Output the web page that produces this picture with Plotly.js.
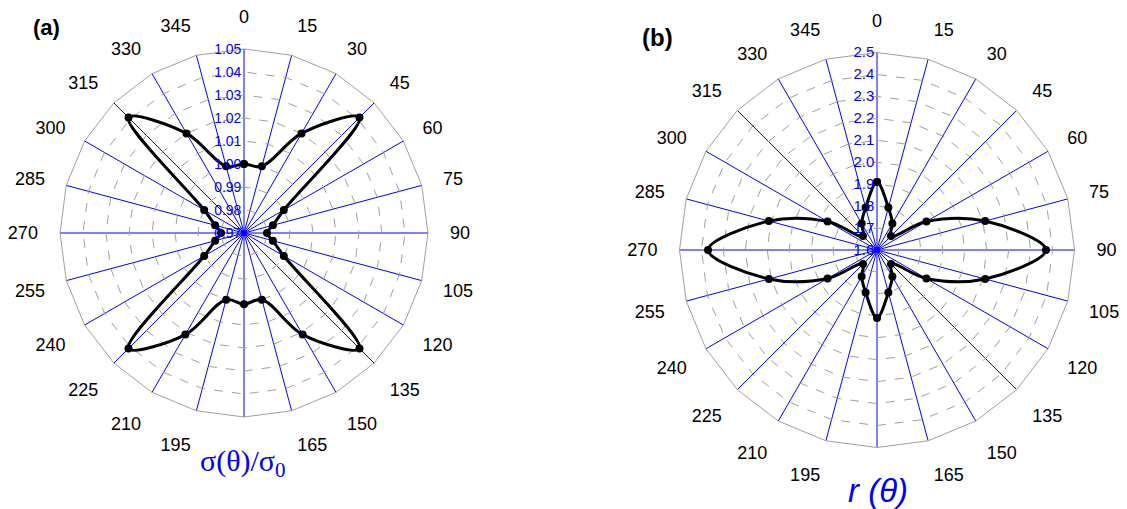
<!DOCTYPE html>
<html>
<head>
<meta charset="utf-8">
<script src="https://cdn.plot.ly/plotly-3.0.1.min.js"></script>
<style>html,body{margin:0;padding:0;background:#fff;}#chart{width:1127px;height:509px;}</style>
</head>
<body>
<div id="chart"></div>
<script>
// Angle categories (degrees, clockwise from top); last point closes the curve
const anglesA = ['0','15','30','45','60','75','90','105','120','135','150','165','180','195','210','225','240','255','270','285','300','315','330','345','0'];
// Panel (a): sigma(theta)/sigma0
const sigmaRatio = [1.000,1.000,1.020,1.041,0.990,0.983,0.980,0.983,0.990,1.041,1.021,1.000,1.001,1.000,1.021,1.041,0.990,0.983,0.980,0.983,0.990,1.041,1.020,1.000,1.000];
// Panel (b): r(theta)
const anglesB = ['0','15','30','45','60','75','90','105','120','135','150','165','180','195','210','225','240','255','270','285','300','315','330','345','0'];
const rTheta = [1.91,1.80,1.74,1.69,1.86,2.11,2.37,2.11,1.86,1.69,1.74,1.80,1.91,1.80,1.74,1.69,1.86,2.11,2.37,2.11,1.86,1.69,1.74,1.80,1.91];

const angTicks = ['0','15','30','45','60','75','90','105','120','135','150','165','180','195','210','225','240','255','270','285','300','315','330','345'];
const angLabels = ['0','15','30','45','60','75','90','105','120','135','150','165','','195','210','225','240','255','270','285','300','315','330','345'];
const radTicksA = [0.97,0.98,0.99,1.00,1.01,1.02,1.03,1.04,1.05];
const radTicksB = [1.6,1.7,1.8,1.9,2.0,2.1,2.2,2.3,2.4,2.5];

function angAxis(){
  return {
    type: 'category', categoryorder: 'array', categoryarray: angTicks,
    rotation: 90, direction: 'clockwise',
    tickmode: 'array', tickvals: angTicks, ticktext: angLabels,
    showgrid: true, gridcolor: '#0000ff', gridwidth: 1,
    showline: true, linecolor: '#a0a0a0', linewidth: 1,
    ticks: 'outside', ticklen: 18, tickcolor: 'rgba(0,0,0,0)',
    tickfont: {family: 'Liberation Sans, Arial, sans-serif', size: 18, color: '#000'}
  };
}
function radAxis(range, ticks, fmt, fs){
  return {
    range: range, angle: 90, side: 'counterclockwise', tickangle: 90,
    tickmode: 'array', tickvals: ticks, ticktext: ticks.map(v => v.toFixed(fmt)),
    showgrid: true, gridcolor: '#a0a0a0', gridwidth: 1, griddash: 'dash',
    showline: false, ticks: '',
    tickfont: {family: 'Liberation Sans, Arial, sans-serif', size: fs, color: '#0000ff'}
  };
}

const traceA = {
  type: 'scatterpolar', subplot: 'polar',
  theta: anglesA, r: sigmaRatio, mode: 'lines+markers',
  line: {color: '#000', width: 3, shape: 'spline', smoothing: 1},
  marker: {color: '#000', size: 8},
  hoverinfo: 'skip', showlegend: false, cliponaxis: false
};
const traceB = {
  type: 'scatterpolar', subplot: 'polar2',
  theta: anglesB, r: rTheta, mode: 'lines+markers',
  line: {color: '#000', width: 3, shape: 'spline', smoothing: 1},
  marker: {color: '#000', size: 8},
  hoverinfo: 'skip', showlegend: false, cliponaxis: false
};

const layout = {
  width: 1127, height: 509,
  margin: {l:0, r:0, t:0, b:0},
  paper_bgcolor: '#fff', plot_bgcolor: '#fff',
  showlegend: false,
  polar: {
    domain: {x: [60/1127, 428/1127], y: [92/509, 460/509]},
    gridshape: 'linear', bgcolor: '#fff',
    angularaxis: angAxis(),
    radialaxis: radAxis([0.97, 1.05], radTicksA, 2, 14)
  },
  polar2: {
    domain: {x: [679.5/1127, 1074.5/1127], y: [61.5/509, 456.5/509]},
    gridshape: 'linear', bgcolor: '#fff',
    angularaxis: angAxis(),
    radialaxis: radAxis([1.6, 2.5], radTicksB, 1, 15)
  },
  annotations: [
    {text: '<b>(a)</b>', x: 31/1127, y: 1 - 28/509, xref: 'paper', yref: 'paper', xanchor: 'left', yanchor: 'middle', showarrow: false,
     font: {family: 'Liberation Sans, Arial, sans-serif', size: 22, color: '#000'}},
    {text: '<b>(b)</b>', x: 640/1127, y: 1 - 38/509, xref: 'paper', yref: 'paper', xanchor: 'left', yanchor: 'middle', showarrow: false,
     font: {family: 'Liberation Sans, Arial, sans-serif', size: 24, color: '#000'}},
    {text: 'σ(θ)/σ<sub>0</sub>', x: 243/1127, y: 1 - 463/509, xref: 'paper', yref: 'paper', xanchor: 'center', yanchor: 'middle', showarrow: false,
     font: {family: 'Liberation Serif, Times New Roman, serif', size: 30, color: '#0000ff'}},
    {text: '<i>r (θ)</i>', x: 878/1127, y: 1 - 490/509, xref: 'paper', yref: 'paper', xanchor: 'center', yanchor: 'middle', showarrow: false,
     font: {family: 'Liberation Sans, Arial, sans-serif', size: 33, color: '#0000ff'}}
  ]
};

Plotly.newPlot('chart', [traceA, traceB], layout, {staticPlot: true, displayModeBar: false});
</script>
</body>
</html>
